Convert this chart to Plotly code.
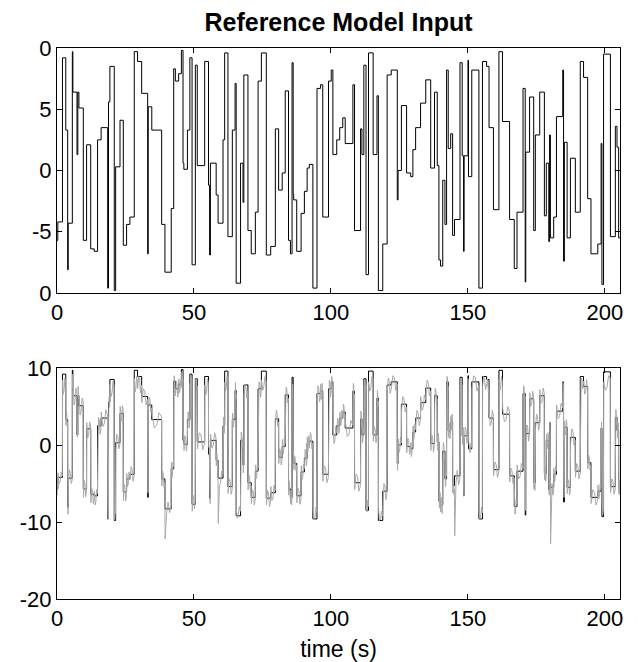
import plotly.graph_objects as go

# Reference step signal: switching times (s) and levels
step_t = [0.0, 0.3, 2.0, 3.2, 3.9, 4.1, 5.6, 5.8, 7.3, 7.6, 8.0, 9.6, 10.8, 12.3, 13.6, 14.8, 16.1, 18.5, 18.8, 19.3,
          20.9, 21.4, 23.0, 24.2, 25.4, 26.6, 28.2, 29.4, 30.9, 33.1, 33.3, 34.6, 38.2, 39.4, 41.7, 42.6, 43.2, 44.4, 45.4, 46.0,
          46.3, 47.6, 48.5, 49.3, 50.5, 51.2, 53.9, 55.3, 55.7, 56.0, 58.1, 58.8, 60.6, 61.2, 62.4, 64.0, 65.0, 65.4, 67.0, 67.9,
          68.2, 69.7, 70.9, 72.4, 73.4, 74.6, 76.4, 78.0, 79.7, 80.9, 82.2, 83.3, 84.5, 85.2, 85.8, 86.2, 86.4, 87.5, 89.1, 90.3,
          91.3, 92.1, 93.4, 94.9, 96.2, 97.0, 99.1, 100.1, 100.7, 102.1, 103.2, 104.3, 105.2, 108.0, 108.6, 110.8, 111.3, 112.0, 112.8, 113.7,
          115.4, 116.8, 117.3, 118.9, 120.5, 122.0, 124.2, 124.5, 125.7, 127.6, 129.1, 129.9, 130.9, 132.7, 134.6, 136.4, 137.8, 138.8, 139.4, 140.0,
          140.8, 141.6, 142.2, 142.8, 143.7, 144.4, 145.1, 147.1, 147.9, 148.4, 148.6, 150.0, 150.2, 151.4, 154.0, 155.3, 156.8, 157.7, 159.3, 161.3,
          162.6, 165.2, 166.9, 167.9, 170.1, 170.9, 171.1, 172.5, 174.0, 174.6, 176.2, 177.9, 178.6, 179.5, 179.8, 180.1, 181.3, 182.3, 184.6, 184.9,
          185.2, 186.2, 187.4, 189.2, 191.0, 192.2, 193.7, 194.9, 197.4, 198.6, 198.9, 199.5, 202.0, 203.8, 204.4, 205.0]
step_v = [-5.7, -4.2, 9.2, 3.3, -8.1, -4.3, 9.7, 6.4, 1.3, 6.4, 5.1, -5.7, 2.1, -6.4, -6.6, 2.5, 3.5, -9.6, 5.6, 8.5,
          -9.8, 0.3, 4.1, -6.1, -4.4, -3.8, 9.7, 8.9, 6.3, -6.8, 5.2, 3.3, -4.4, -8.3, -3.1, 8.3, 7.3, 7.9, 9.8, 0.6,
          0.1, 3.3, 9.2, -7.7, 8.6, 0.4, 8.9, -1.2, -6.9, 0.6, -2.0, -4.3, 2.5, 9.6, -5.4, 3.3, 7.1, -9.2, 0.6, -2.6,
          7.8, -4.9, -6.8, -3.4, 7.3, 9.6, -6.9, -6.2, 3.4, -1.6, -0.2, 6.5, -5.7, -6.8, 8.8, -1.9, -2.4, -6.6, -3.5, -1.7,
          0.2, 0.5, -9.6, 6.7, 7.0, -3.8, 7.3, 8.2, 1.3, 2.5, 3.5, 4.3, 2.2, 7.0, -4.9, 3.4, 1.3, 8.6, -8.5, 9.6,
          1.3, 6.1, -9.8, -6.0, 7.8, 8.2, -2.4, 0.0, 5.3, -0.2, -0.5, 1.7, 3.5, 5.5, 7.4, 0.2, 6.4, 0.4, -7.3, -7.8,
          -0.8, -4.4, 8.2, 1.8, 3.0, -5.3, -4.0, 8.8, 1.2, -6.6, 1.2, 9.0, -0.5, 8.2, -9.6, 8.9, 8.5, 3.5, -3.2, 9.7,
          4.0, -4.0, -8.0, -3.4, 6.7, -9.1, 1.5, 6.0, -4.9, 2.9, 6.4, -3.7, 0.6, -5.8, 2.9, -5.5, -3.8, 4.4, 8.2, -7.4,
          2.3, -5.5, 1.0, -3.4, 8.9, 7.6, -2.3, -6.8, -6.0, 2.2, -9.3, 9.5, -5.4, 3.6, 1.9, -5.5]
t_end = 205.5

# Model output (gray): five readings across each reference step
gray_v = [
    [-6.5, -4.9, -5.2, -6.4, -5.9], [-3.6, -5.0, -4.8, -3.5, -4.0], [8.4, 6.6, 7.1, 8.7, 8.0], [2.6, 4.5, 4.1, 2.4, 3.0],
    [-5.5, -7.0, -7.9, -9.0, -8.8], [-4.9, -3.2, -3.7, -5.0, -4.6], [7.2, 8.5, 8.8, 9.2, 9.0], [7.7, 5.2, 5.6, 7.4, 6.9],
    [3.2, 1.8, 1.0, 2.3, 1.9], [5.1, 7.6, 7.3, 5.5, 6.0], [6.2, 3.9, 4.3, 6.1, 5.7], [-6.8, -4.6, -5.0, -6.7, -6.2],
    [2.9, 0.9, 1.4, 3.0, 2.6], [-7.5, -5.6, -6.0, -7.6, -7.1], [-6.0, -7.8, -7.4, -5.8, -6.3], [1.6, 3.6, 3.2, 1.4, 2.1],
    [4.3, 2.4, 2.8, 4.6, 3.9], [-7.8, -8.9, -9.3, -9.6, -9.1], [3.8, 6.0, 6.3, 4.9, 5.2], [7.9, 6.3, 6.8, 8.3, 7.6],
    [-8.2, -9.7, -9.5, -8.5, -8.9], [-0.6, 1.4, 1.1, -0.5, 0.0], [5.0, 3.0, 3.4, 5.1, 4.6], [-7.2, -5.1, -5.5, -7.3, -6.6],
    [-3.7, -5.4, -5.1, -3.5, -4.2], [-4.5, -2.8, -3.1, -4.7, -4.0], [8.6, 6.9, 7.4, 8.9, 8.3], [7.3, 8.9, 8.6, 6.8, 7.8],
    [5.5, 7.3, 7.0, 5.2, 5.9], [-3.5, -5.5, -6.2, -6.0, -5.6], [4.4, 6.2, 5.9, 4.3, 4.8], [4.0, 2.2, 2.6, 4.2, 3.7],
    [-5.3, -3.4, -3.8, -5.5, -4.9], [-12.2, -8.9, -7.4, -8.8, -8.0], [-2.3, -4.2, -3.9, -2.2, -2.8], [7.5, 9.0, 8.8, 6.8, 7.0],
    [6.4, 8.3, 8.0, 6.2, 6.9], [8.6, 6.8, 7.1, 8.4, 7.5], [8.3, 9.5, 9.2, 8.1, 8.5], [1.5, -0.5, -0.2, 1.6, 0.8],
    [-0.7, 1.2, 0.9, -0.8, 0.3], [2.4, 4.3, 4.0, 2.2, 3.0], [8.0, 6.8, 7.2, 8.8, 8.4], [-8.6, -6.5, -6.9, -8.3, -7.4],
    [7.1, 8.6, 8.3, 7.0, 7.7], [-0.5, 1.6, 1.3, -0.6, 0.1], [7.8, 6.5, 6.9, 8.6, 8.1], [-0.3, -2.3, -2.0, -0.2, -1.0],
    [-5.5, -6.2, -6.6, -7.6, -7.3], [1.4, -0.4, 0.0, 1.6, 0.9], [-2.7, -1.1, -1.4, -2.9, -2.3], [-10.2, -5.3, -4.9, -3.4, -3.8],
    [1.7, 3.6, 3.3, 1.5, 2.2], [8.1, 7.0, 7.5, 9.0, 8.7], [-6.3, -4.4, -4.7, -6.4, -5.8], [4.1, 2.3, 2.6, 4.3, 3.6],
    [6.2, 8.1, 7.8, 6.0, 6.6], [-8.3, -9.5, -9.0, -8.0, -8.6], [-0.3, 1.7, 1.4, -0.4, 0.9], [-1.9, -3.6, -3.3, -1.7, -2.4],
    [6.3, 7.9, 7.5, 6.1, 7.0], [-5.8, -3.9, -4.2, -6.0, -5.3], [-7.6, -5.8, -6.1, -7.8, -7.2], [-2.6, -4.4, -4.1, -2.4, -3.0],
    [6.5, 8.2, 7.9, 6.2, 6.8], [8.4, 7.1, 7.6, 8.9, 8.2], [-7.8, -5.9, -6.2, -8.0, -7.3], [-5.4, -7.2, -6.9, -5.2, -5.9],
    [2.6, 4.5, 4.2, 2.4, 3.0], [-2.4, -0.5, -0.8, -2.6, -1.9], [0.7, -1.2, -0.9, 0.9, 0.2], [5.7, 7.5, 7.2, 5.5, 6.1],
    [-6.5, -4.7, -5.0, -6.7, -6.0], [-7.6, -5.9, -6.2, -7.8, -7.1], [5.5, 7.0, 7.9, 7.5, 7.2], [-1.1, -2.8, -2.5, -1.0, -1.6],
    [-3.2, -1.4, -1.7, -3.3, -2.6], [-7.5, -5.6, -5.9, -7.7, -7.0], [-2.7, -4.5, -4.2, -2.5, -3.1], [-2.5, -0.6, -0.9, -2.7, -2.0],
    [1.0, -0.9, -0.6, 1.2, 0.5], [-0.4, 1.6, 1.3, -0.5, 0.2], [-8.3, -9.6, -9.4, -8.1, -8.8], [5.8, 7.7, 7.4, 5.6, 6.3],
    [7.9, 5.9, 6.2, 8.0, 7.3], [-4.7, -2.7, -3.0, -4.9, -4.2], [6.4, 8.4, 8.1, 6.2, 6.9], [7.3, 8.9, 8.7, 7.0, 7.6],
    [2.2, 0.2, 0.5, 2.4, 1.6], [1.7, 3.5, 3.2, 1.5, 2.1], [4.3, 2.5, 2.8, 4.5, 3.9], [3.5, 5.3, 5.0, 3.3, 4.0],
    [3.0, 1.1, 1.4, 3.2, 2.6], [6.1, 8.0, 7.7, 5.9, 6.6], [-5.8, -3.8, -4.1, -6.0, -5.3], [2.5, 4.4, 4.1, 2.3, 3.0],
    [2.1, 0.3, 0.6, 2.3, 1.5], [7.4, 8.5, 8.2, 7.1, 7.7], [-7.3, -8.7, -8.4, -7.2, -8.0], [8.2, 7.0, 7.4, 8.9, 8.6],
    [0.5, 2.4, 2.1, 0.3, 1.0], [5.2, 7.1, 6.8, 5.0, 5.7], [-8.4, -9.8, -9.6, -8.6, -9.2], [-6.9, -5.0, -5.3, -7.1, -6.4],
    [6.9, 8.7, 8.4, 6.7, 7.3], [7.4, 9.0, 8.8, 7.1, 7.9], [-1.6, -3.3, -3.0, -1.4, -2.2], [0.8, -1.0, -0.7, 1.0, 0.3],
    [4.5, 6.3, 6.0, 4.3, 4.9], [-1.0, 0.9, 0.6, -1.2, -0.4], [0.3, -1.5, -1.2, 0.5, -0.2], [2.5, 0.7, 1.0, 2.7, 2.0],
    [2.7, 4.5, 4.2, 2.5, 3.1], [6.3, 4.5, 4.8, 6.5, 5.9], [6.6, 8.4, 8.1, 6.4, 7.0], [-0.7, 1.3, 1.0, -0.9, -0.1],
    [5.6, 7.4, 7.1, 5.4, 6.0], [1.3, -0.7, -0.4, 1.5, 0.7], [-6.4, -8.2, -7.9, -6.2, -7.0], [-8.7, -6.8, -7.1, -8.9, -7.5],
    [-1.6, 0.3, 0.0, -1.8, -1.1], [-3.6, -5.4, -5.1, -3.4, -4.0], [7.3, 8.9, 8.7, 7.0, 7.6], [1.0, 2.9, 2.6, 0.8, 1.4],
    [3.8, 2.0, 2.3, 4.0, 3.4], [-6.2, -4.3, -4.6, -6.4, -5.7], [-11.8, -5.0, -3.3, -5.2, -4.5], [7.6, 8.6, 8.3, 7.2, 7.8],
    [2.1, 0.1, 0.4, 2.3, 1.5], [-5.0, -6.0, -6.3, -6.6, -5.8], [0.4, 2.3, 2.0, 0.2, 0.9], [7.5, 8.6, 8.3, 6.9, 7.2],
    [0.5, -0.7, -1.0, 0.2, -0.3], [7.3, 9.0, 8.8, 7.0, 7.7], [-8.4, -9.6, -9.2, -8.1, -8.8], [7.7, 8.9, 8.6, 7.2, 7.9],
    [7.6, 8.6, 8.3, 6.9, 7.2], [4.3, 2.5, 2.8, 4.5, 3.9], [-4.0, -2.2, -2.5, -4.2, -3.6], [8.5, 7.1, 7.6, 8.9, 8.3],
    [4.8, 3.0, 3.3, 5.0, 4.4], [-4.8, -3.0, -3.3, -5.0, -4.3], [-7.2, -9.0, -8.7, -7.0, -7.6], [-2.6, -4.4, -4.1, -2.4, -3.0],
    [5.9, 7.7, 7.4, 5.7, 6.3], [-6.0, -7.5, -8.5, -8.2, -7.8], [0.7, 2.6, 2.3, 0.5, 1.2], [6.8, 5.0, 5.3, 7.0, 6.4],
    [-5.7, -3.9, -4.2, -5.9, -5.3], [2.1, 4.0, 3.7, 1.9, 2.5], [7.2, 5.4, 5.7, 7.4, 6.8], [-4.5, -2.7, -3.0, -4.7, -4.1],
    [1.4, -0.5, -0.2, 1.6, 0.9], [-5.0, -6.3, -6.5, -5.3, -5.4], [1.5, 3.0, 2.6, 1.8, 2.0], [-12.8, -6.2, -5.0, -6.5, -6.1],
    [-3.0, -4.8, -4.5, -2.8, -3.4], [5.2, 3.4, 3.7, 5.4, 4.8], [6.9, 8.1, 7.8, 7.0, 7.4], [-4.5, -6.0, -6.8, -6.5, -6.2],
    [3.1, 1.3, 1.6, 3.3, 2.7], [-6.3, -4.5, -4.8, -6.5, -5.9], [0.2, 2.1, 1.8, 0.0, 0.6], [-4.2, -2.4, -2.7, -4.4, -3.8],
    [7.6, 8.7, 8.4, 7.3, 7.9], [8.3, 6.6, 6.9, 8.5, 7.2], [-3.1, -1.3, -1.6, -3.3, -2.7], [-7.6, -5.8, -6.1, -7.8, -7.2],
    [-5.2, -7.0, -6.7, -5.0, -5.6], [1.4, 2.6, 3.0, 1.6, 1.8], [-7.0, -8.2, -9.0, -8.8, -8.5], [8.2, 7.1, 7.5, 9.0, 8.7],
    [-6.2, -4.4, -4.7, -6.4, -5.8], [2.8, 4.6, 4.3, 2.6, 3.2], [2.7, 0.9, 1.2, 2.9, 2.3], [-6.3, -4.5, -4.8, -6.5, -5.9],
]

x_ticks = [0, 50, 100, 150, 200]
top_y_ticks = [10, 5, 0, -5, -10]
top_y_text = ["0", "5", "0", "-5", "0"]
bot_y_ticks = [10, 0, -10, -20]
bot_y_text = ["10", "0", "-10", "-20"]

title_text = "Reference Model Input"
xlabel_text = "time (s)"

# step trace (extend to the end of the axis)
sx = step_t + [t_end]
sy = step_v + [step_v[-1]]

# gray trace: spread each step's readings across that step
gx, gy = [], []
bounds = step_t + [t_end]
fractions = [0.0, 0.25, 0.5, 0.75, 1.0]
for i, readings in enumerate(gray_v):
    s, e = bounds[i], bounds[i + 1]
    d = min(0.06, (e - s) / 6)
    for f, vv in zip(fractions, readings):
        gx.append(s + d + f * (e - s - 2 * d))
        gy.append(vv)

fig = go.Figure()
fig.add_trace(go.Scatter(x=sx, y=sy, mode="lines", line=dict(color="#000000", width=1, shape="hv"),
                         xaxis="x", yaxis="y", showlegend=False))
fig.add_trace(go.Scatter(x=sx, y=sy, mode="lines", line=dict(color="#000000", width=1, shape="hv"),
                         xaxis="x2", yaxis="y2", showlegend=False))
fig.add_trace(go.Scatter(x=gx, y=gy, mode="lines", line=dict(color="#a9a9a9", width=1),
                         xaxis="x2", yaxis="y2", showlegend=False))

FONT = "Liberation Sans, Arial, sans-serif"
axis_common = dict(showgrid=False, zeroline=False, showline=True, linecolor="black", linewidth=1,
                   mirror="ticks", ticks="inside", ticklen=5, tickcolor="black", automargin=False,
                   tickfont=dict(family=FONT, size=22, color="black"))

# the page body adds an 8px offset, so the figure is 8px smaller than the window on each axis
FIG_W, FIG_H = 630, 654
M_T, M_B = 40, 63
PLOT_H = FIG_H - M_T - M_B

fig.update_layout(
    width=FIG_W, height=FIG_H,
    margin=dict(l=49, r=18, t=M_T, b=M_B),
    paper_bgcolor="white", plot_bgcolor="white",
    title=dict(text="<b>" + title_text + "</b>", x=0.5, xref="paper", xanchor="center",
               y=1 - 14 / FIG_H, yref="container", yanchor="middle",
               font=dict(family=FONT, size=25, color="black")),
    xaxis=dict(domain=[0, 1], anchor="y", range=[0, t_end], tickvals=x_ticks, **axis_common),
    yaxis=dict(domain=[1 - 245 / PLOT_H, 1], anchor="x", range=[-10, 10], tickvals=top_y_ticks, ticktext=top_y_text, **axis_common),
    xaxis2=dict(domain=[0, 1], anchor="y2", range=[0, t_end], tickvals=x_ticks,
                title=dict(text=xlabel_text, standoff=12, font=dict(family=FONT, size=23, color="black")),
                **axis_common),
    yaxis2=dict(domain=[0, 231 / PLOT_H], anchor="x2", range=[-20, 10], tickvals=bot_y_ticks, ticktext=bot_y_text, **axis_common),
)

fig.write_html("out.html")
